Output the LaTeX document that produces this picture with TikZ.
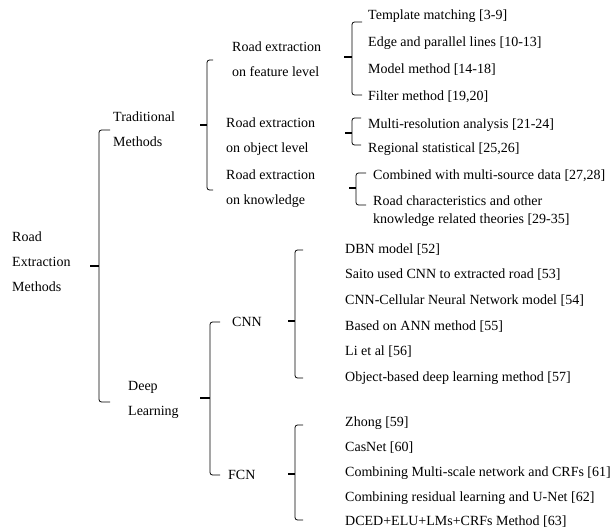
\documentclass[tikz,border=0pt]{standalone}
\usepackage{fontspec}
\setmainfont{Liberation Serif}
\usetikzlibrary{positioning}

\tikzset{
  lbl/.style={anchor=west, inner sep=0pt, align=left, font=\fontsize{14}{25}\selectfont},
  bracket/.style={line width=0.8pt, rounded corners=2.5pt},
  tick/.style={line width=1.4pt},
}

% name, x, top, bottom, middle, hook, tick
\newcommand{\grp}[7]{%
  \coordinate (#1t) at (#2+#6,#3);
  \coordinate (#1a) at (#2,#3);
  \coordinate (#1b) at (#2,#4);
  \coordinate (#1e) at (#2+#6,#4);
  \coordinate (#1) at (#2,#5);
  \coordinate (#1m) at (#2-#7,#5);
  \draw[bracket] (#1t) -- (#1a) -- (#1b) -- (#1e);
  \draw[tick] (#1m) -- (#1);
}

\begin{document}
\begin{tikzpicture}[x=1pt,y=-1pt]
  \useasboundingbox (0,0) rectangle (610,529);

  % main levels
  \node[lbl] (root) at (12,262) {Road\\Extraction\\Methods};
  \node[lbl] (trad) at (113,129) {Traditional\\Methods};
  \node[lbl] (deep) at (128,400) {Deep\\Learning};

  % traditional methods
  \node[lbl] (feat) at (232,59) {Road extraction\\on feature level};
  \node[lbl] (obj) at (226,137) {Road extraction\\on object level};
  \node[lbl] (know) at (226,188.5) {Road extraction\\on knowledge};

  \node[lbl] (f1) at (368,16) {Template matching [3-9]};
  \node[lbl] (f2) at (368,43) {Edge and parallel lines [10-13]};
  \node[lbl] (f3) at (368,70) {Model method [14-18]};
  \node[lbl] (f4) at (368,97) {Filter method [19,20]};

  \node[lbl] (o1) at (368,125) {Multi-resolution analysis [21-24]};
  \node[lbl] (o2) at (368,149) {Regional statistical [25,26]};

  \node[lbl] (k1) at (373,176) {Combined with multi-source data [27,28]};
  \node[lbl, font=\fontsize{14}{18}\selectfont] (k2) at (373,211) {Road characteristics and other\\knowledge related theories [29-35]};

  % deep learning
  \node[lbl] (cnn) at (232,322) {CNN};
  \node[lbl] (fcn) at (228,475) {FCN};

  \node[lbl] (c1) at (345,250) {DBN model [52]};
  \node[lbl] (c2) at (345,275) {Saito used CNN to extracted road [53]};
  \node[lbl] (c3) at (345,301) {CNN-Cellular Neural Network model [54]};
  \node[lbl] (c4) at (345,327) {Based on ANN method [55]};
  \node[lbl] (c5) at (345,352) {Li et al [56]};
  \node[lbl] (c6) at (345,378) {Object-based deep learning method [57]};

  \node[lbl] (n1) at (345,423) {Zhong [59]};
  \node[lbl] (n2) at (345,448) {CasNet [60]};
  \node[lbl] (n3) at (345,473) {Combining Multi-scale network and CRFs [61]};
  \node[lbl] (n4) at (345,498) {Combining residual learning and U-Net [62]};
  \node[lbl] (n5) at (345,522) {DCED+ELU+LMs+CRFs Method [63]};

  % brackets
  \grp{rootb}{99}{130}{402}{266}{11}{9}
  \grp{tradb}{207}{60}{190}{125}{6}{7}
  \grp{featb}{352}{22}{95}{57}{10}{8}
  \grp{objb}{352}{118}{145}{133}{9}{7}
  \grp{knowb}{356}{173}{205}{188}{10}{7}
  \grp{deepb}{210}{322}{475}{398}{10}{10}
  \grp{cnnb}{295}{250}{378}{321}{8}{7}
  \grp{fcnb}{295}{425}{520}{474}{8}{7}
\end{tikzpicture}
\end{document}
